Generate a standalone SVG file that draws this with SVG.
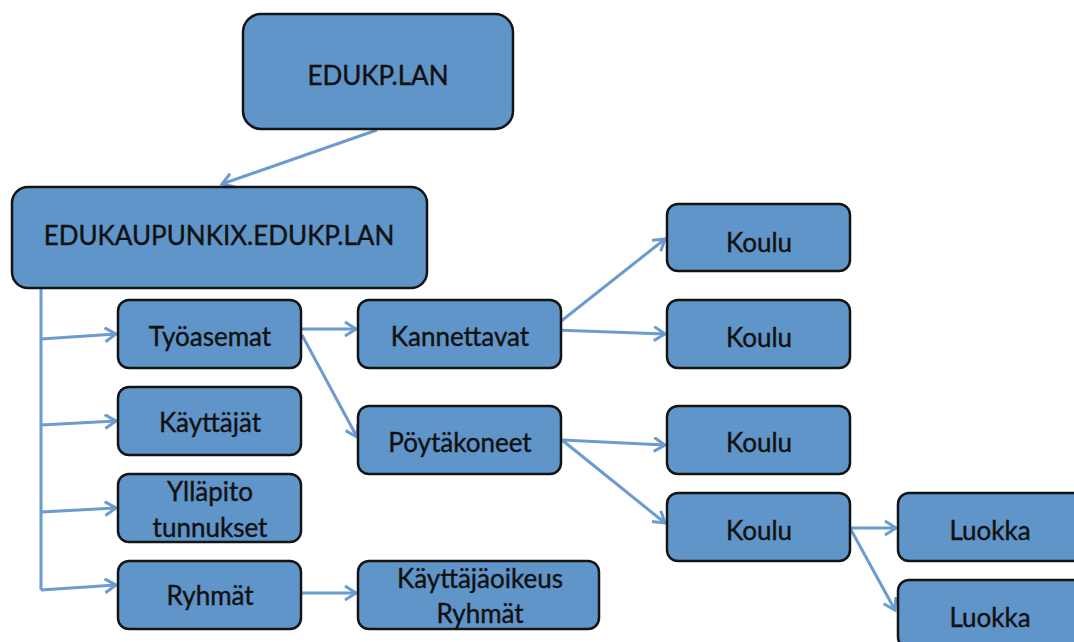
<svg xmlns="http://www.w3.org/2000/svg" width="1074" height="642" viewBox="0 0 1074 642">
<defs>
<marker id="arr" markerUnits="userSpaceOnUse" markerWidth="16" markerHeight="18" refX="12" refY="8" orient="auto">
<path d="M1,1 L12,8 L1,15" fill="none" stroke="#6b9bcf" stroke-width="3"/>
</marker>
</defs>
<style>
.box{fill:#6095c9;stroke:#141414;stroke-width:2.5}
.t{font-family:Lato,"Open Sans",sans-serif;font-size:26px;fill:#111;stroke:#111;stroke-width:0.4;text-anchor:middle}
.c{fill:none;stroke:#6b9bcf;stroke-width:3}
</style>
<rect width="1074" height="642" fill="#fff"/>
<g id="connectors">
<path class="c" d="M377,130 L222,184" marker-end="url(#arr)"/>
<path class="c" d="M41,288 L41,590"/>
<path class="c" d="M41,339 L116,334" marker-end="url(#arr)"/>
<path class="c" d="M41,425 L116,421" marker-end="url(#arr)"/>
<path class="c" d="M41,512 L116,508" marker-end="url(#arr)"/>
<path class="c" d="M41,590 L116,585" marker-end="url(#arr)"/>
<path class="c" d="M301,329 L356,329" marker-end="url(#arr)"/>
<path class="c" d="M302,335 L357,437" marker-end="url(#arr)"/>
<path class="c" d="M301,593 L356,593" marker-end="url(#arr)"/>
<path class="c" d="M560,322 L665,239" marker-end="url(#arr)"/>
<path class="c" d="M555,330 L665,334" marker-end="url(#arr)"/>
<path class="c" d="M562,440 L665,445" marker-end="url(#arr)"/>
<path class="c" d="M562,440 L665,523" marker-end="url(#arr)"/>
<path class="c" d="M850,528 L896,528" marker-end="url(#arr)"/>
<path class="c" d="M850,528 L895,610" marker-end="url(#arr)"/>
</g>
<g id="n-edukp"><rect class="box" x="243" y="14" width="270" height="115" rx="18"/><text class="t" x="378" y="85">EDUKP.LAN</text></g>
<g id="n-edukaupunkix"><rect class="box" x="12" y="187" width="415" height="101" rx="16"/><text class="t" x="219" y="245">EDUKAUPUNKIX.EDUKP.LAN</text></g>
<g id="n-tyoasemat"><rect class="box" x="118" y="300" width="183" height="68" rx="11"/><text class="t" x="210" y="346">Työasemat</text></g>
<g id="n-kayttajat"><rect class="box" x="118" y="387" width="183" height="68" rx="11"/><text class="t" x="210" y="432">Käyttäjät</text></g>
<g id="n-yllapito"><rect class="box" x="118" y="474" width="183" height="68" rx="11"/><text class="t" x="210" y="501">Ylläpito</text><text class="t" x="210" y="537">tunnukset</text></g>
<g id="n-ryhmat"><rect class="box" x="118" y="561" width="183" height="68" rx="11"/><text class="t" x="210" y="605">Ryhmät</text></g>
<g id="n-kannettavat"><rect class="box" x="358" y="300" width="203" height="68" rx="11"/><text class="t" x="460" y="346">Kannettavat</text></g>
<g id="n-poytakoneet"><rect class="box" x="358" y="406" width="203" height="68" rx="11"/><text class="t" x="460" y="452">Pöytäkoneet</text></g>
<g id="n-oikeus"><rect class="box" x="358" y="561" width="241" height="68" rx="11"/><text class="t" x="480" y="588">Käyttäjäoikeus</text><text class="t" x="480" y="623">Ryhmät</text></g>
<g id="n-koulu1"><rect class="box" x="667" y="204" width="183" height="67" rx="11"/><text class="t" x="759" y="252">Koulu</text></g>
<g id="n-koulu2"><rect class="box" x="667" y="300" width="183" height="68" rx="11"/><text class="t" x="759" y="347">Koulu</text></g>
<g id="n-koulu3"><rect class="box" x="667" y="406" width="183" height="68" rx="11"/><text class="t" x="759" y="452">Koulu</text></g>
<g id="n-koulu4"><rect class="box" x="667" y="493" width="183" height="68" rx="11"/><text class="t" x="759" y="540">Koulu</text></g>
<g id="n-luokka1"><rect class="box" x="898" y="493" width="186" height="68" rx="11"/><text class="t" x="990" y="540">Luokka</text></g>
<g id="n-luokka2"><rect class="box" x="898" y="580" width="186" height="68" rx="11"/><text class="t" x="990" y="627">Luokka</text></g>
</svg>
